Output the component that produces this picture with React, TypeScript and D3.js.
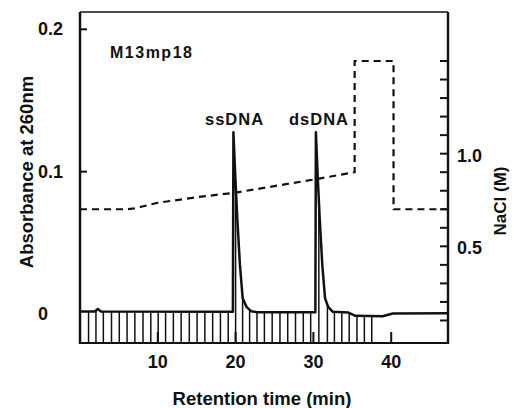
import React from "react";
import * as d3 from "d3";

// Absorbance trace (time in min, absorbance at 260 nm)
const TRACE_T = [0, 1.9, 2.3, 2.7, 19.65, 19.72, 19.95, 20.22, 20.55, 20.91, 21.4, 22.0, 22.8, 30.25, 30.32, 30.55, 30.82, 31.15, 31.5, 31.9, 32.5, 34.5, 35.4, 38.9, 40.2, 47.3];
const TRACE_A = [0.0017, 0.0017, 0.0035, 0.0017, 0.0015, 0.1276, 0.098, 0.067, 0.035, 0.011, 0.005, 0.002, 0.0012, 0.0012, 0.1276, 0.097, 0.066, 0.034, 0.011, 0.005, 0.0015, 0.001, -0.0013, -0.0016, 0.0004, 0.0005];

// NaCl gradient (time in min, molarity)
const NACL_T = [0, 6, 7, 8, 10, 15, 20, 25, 30, 35.3, 35.3, 40.3, 40.3, 47.3];
const NACL_M = [0.7, 0.7, 0.705, 0.715, 0.735, 0.765, 0.79, 0.825, 0.86, 0.9, 1.5, 1.5, 0.7, 0.7];

// Fraction collection marks (min)
const FRACTIONS = [1.1, 2.05, 3.0, 4.05, 5.05, 6.05, 7.05, 8.1, 9.1, 10.05, 11.0, 12.0, 13.0, 14.05, 15.05, 16.05, 17.05, 18.05, 19.05, 20.0, 20.9, 21.8, 22.75, 23.7, 24.7, 25.7, 26.7, 27.7, 28.7, 29.65, 30.7, 31.8, 32.7, 33.65, 34.6, 35.6, 36.55, 37.5];

const X_TICKS = [10, 20, 30, 40];
const A_TICKS = [0.1, 0.2];
const A_LABELS = ["0", "0.1", "0.2"];
const A_LABEL_VALUES = [0, 0.1, 0.2];
const N_TICKS = [0.1, 0.2, 0.3, 0.4, 0.5, 0.6, 0.7, 0.8, 0.9, 1.0, 1.1, 1.2, 1.3, 1.4, 1.5];
const N_LABELS = ["0.5", "1.0"];
const N_LABEL_VALUES = [0.5, 1.0];

const FONT = "'Liberation Sans', Arial, Helvetica, sans-serif";

export default function App() {
  const left = 80, top = 12, right = 448, bottom = 343;
  const x = d3.scaleLinear().domain([0, 47.3]).range([left, right]);
  const yA = d3.scaleLinear().domain([0, 0.2]).range([314, 29.3]);
  const yN = d3.scaleLinear().domain([0, 1.5]).range([339, 61]);

  const trace = TRACE_T.map((t, i) => [t, TRACE_A[i]] as [number, number]);
  const nacl = NACL_T.map((t, i) => [t, NACL_M[i]] as [number, number]);

  const traceLine = d3.line<[number, number]>().x(d => x(d[0])).y(d => yA(d[1]));
  const naclLine = d3.line<[number, number]>().x(d => x(d[0])).y(d => yN(d[1]));

  const bis = d3.bisector((d: [number, number]) => d[0]).left;
  const traceAt = (t: number) => {
    const i = Math.max(1, Math.min(trace.length - 1, bis(trace, t)));
    const a = trace[i - 1], b = trace[i];
    const f = (t - a[0]) / (b[0] - a[0]);
    return a[1] + (b[1] - a[1]) * f;
  };

  return (
    <svg width={514} height={408} style={{ position: "absolute", left: 0, top: 0, background: "#fff" }}
      fontFamily={FONT} fontWeight="bold">
      <rect x={0} y={0} width={514} height={408} fill="#fff" />
      {/* fraction marks */}
      {FRACTIONS.map((t, i) => (
        <line key={"f" + i} x1={x(t)} x2={x(t)} y1={yA(traceAt(t))} y2={bottom} stroke="#111" strokeWidth={1.5} />
      ))}
      {/* frame */}
      <line x1={left} x2={left} y1={top} y2={bottom + 1} stroke="#111" strokeWidth={2.5} />
      <line x1={left} x2={right} y1={top} y2={top} stroke="#111" strokeWidth={1.6} />
      <line x1={right} x2={right} y1={top} y2={bottom + 1} stroke="#111" strokeWidth={2.4} />
      <line x1={left} x2={right} y1={bottom} y2={bottom} stroke="#111" strokeWidth={2} />
      {/* x ticks */}
      {X_TICKS.map(v => (
        <g key={"xt" + v}>
          <line x1={x(v)} x2={x(v)} y1={bottom} y2={bottom - 11} stroke="#111" strokeWidth={2} />
          <text x={x(v)} y={368} textAnchor="middle" fontSize={18} fill="#111">{v}</text>
        </g>
      ))}
      {/* left ticks */}
      {A_TICKS.map(v => (
        <line key={"at" + v} x1={left} x2={left + 7} y1={yA(v)} y2={yA(v)} stroke="#111" strokeWidth={2} />
      ))}
      {A_LABEL_VALUES.map((v, i) => (
        <text key={"al" + i} x={38} y={yA(v) + 6} fontSize={18} fill="#111">{A_LABELS[i]}</text>
      ))}
      {/* right ticks */}
      {N_TICKS.map(v => (
        <line key={"nt" + v} x1={right - 8} x2={right} y1={yN(v)} y2={yN(v)} stroke="#111" strokeWidth={2} />
      ))}
      {N_LABEL_VALUES.map((v, i) => (
        <text key={"nl" + i} x={457} y={yN(v) + 8} fontSize={18} fill="#111">{N_LABELS[i]}</text>
      ))}
      {/* NaCl gradient */}
      <path d={naclLine(nacl) || ""} fill="none" stroke="#111" strokeWidth={2.2} strokeDasharray="7 5" />
      {/* trace */}
      <path d={traceLine(trace) || ""} fill="none" stroke="#111" strokeWidth={2.5} strokeLinejoin="round" />
      {/* annotations */}
      <text x={110} y={58} fontSize={16} letterSpacing={1.5} fill="#111">M13mp18</text>
      <text x={205} y={125} fontSize={16.5} letterSpacing={1} fill="#111">ssDNA</text>
      <text x={289} y={125} fontSize={16.5} letterSpacing={1} fill="#111">dsDNA</text>
      {/* axis titles */}
      <text x={262} y={405} textAnchor="middle" fontSize={18.5} fill="#111">Retention time (min)</text>
      <text transform={`translate(33,172) rotate(-90)`} textAnchor="middle" fontSize={18.5} fill="#111">Absorbance at 260nm</text>
      <text transform={`translate(506,201) rotate(-90)`} textAnchor="middle" fontSize={17} fill="#111">NaCl (M)</text>
    </svg>
  );
}
